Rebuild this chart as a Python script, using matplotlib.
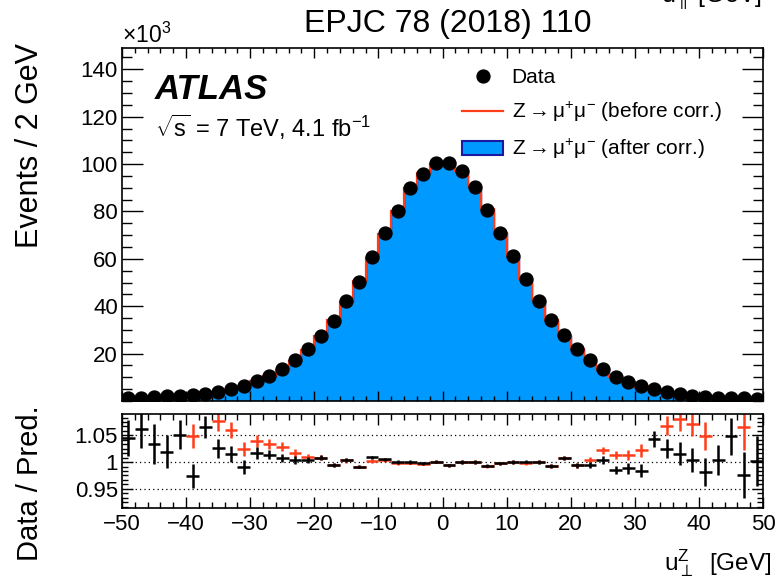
import numpy as np
import matplotlib
matplotlib.use("Agg")
import matplotlib.pyplot as plt
from matplotlib.ticker import MultipleLocator, FixedLocator
from matplotlib.lines import Line2D
from matplotlib.patches import Patch

plt.rcParams['font.family'] = ['Liberation Sans', 'DejaVu Sans']
plt.rcParams['mathtext.fontset'] = 'custom'
plt.rcParams['mathtext.rm'] = 'Liberation Sans'
plt.rcParams['mathtext.it'] = 'Liberation Sans:italic'
plt.rcParams['mathtext.bf'] = 'Liberation Sans:bold'
plt.rcParams['axes.unicode_minus'] = True

# u_perp binning: 2 GeV bins from -50 to 50 GeV
bin_edges = np.arange(-50, 51, 2)
bin_centers = 0.5 * (bin_edges[:-1] + bin_edges[1:])

# Observed events per bin (in units of 10^3)
data_counts = np.array([
    1.1, 1.4, 1.6, 1.9, 2.1, 2.4, 3.1, 3.9, 5.0, 6.3,
    8.6, 10.7, 13.5, 17.2, 21.8, 27.6, 33.9, 42.1, 50.4, 60.6,
    70.9, 80.2, 89.7, 96.0, 100.3,
    100.3, 97.0, 90.4, 80.5, 70.9, 61.1, 51.5, 42.2, 34.1, 27.8,
    21.8, 17.2, 13.5, 10.3, 8.2, 6.2, 5.0, 3.9, 2.8, 2.1,
    1.7, 1.4, 1.2, 1.1, 1.0,
])

# Data / prediction, simulation after the recoil correction
ratio_after = np.array([
    1.045, 1.062, 1.034, 1.019, 1.051, 0.974, 1.066, 1.026, 1.016, 0.991,
    1.017, 1.014, 1.008, 1.004, 1.004, 1.008, 0.994, 1.004, 0.991, 1.009,
    1.005, 1.000, 1.000, 0.998, 1.001,
    0.994, 1.000, 1.000, 0.993, 0.998, 1.000, 1.001, 1.000, 0.993, 1.008,
    0.994, 0.994, 1.004, 0.985, 0.988, 0.984, 1.043, 1.025, 1.016, 1.004,
    0.982, 1.004, 1.048, 0.976, 1.002,
])

# Data / prediction, simulation before the recoil correction
ratio_before = np.array([
    1.140, 1.150, 1.130, 1.110, 1.140, 1.049, 1.130, 1.076, 1.060, 1.025,
    1.040, 1.034, 1.029, 1.017, 1.009, 1.008, 0.995, 1.003, 0.991, 1.002,
    1.004, 0.998, 0.999, 0.997, 1.001,
    0.994, 1.000, 1.000, 0.992, 0.998, 1.000, 0.998, 1.000, 0.993, 1.008,
    0.994, 1.004, 1.022, 1.013, 1.013, 1.022, 1.095, 1.068, 1.080, 1.072,
    1.049, 1.095, 1.140, 1.065, 1.100,
])

# Statistical uncertainty on the ratio
ratio_err = np.array([
    0.033, 0.035, 0.037, 0.031, 0.027, 0.023, 0.021, 0.018, 0.015, 0.013,
    0.011, 0.009, 0.008, 0.007, 0.006, 0.005, 0.004, 0.004, 0.003, 0.003,
    0.003, 0.003, 0.003, 0.003, 0.003,
    0.003, 0.003, 0.003, 0.003, 0.003, 0.003, 0.003, 0.003, 0.004, 0.004,
    0.005, 0.006, 0.007, 0.008, 0.010, 0.012, 0.015, 0.018, 0.021, 0.023,
    0.026, 0.028, 0.034, 0.043, 0.046,
])

x_ticks = [-50, -40, -30, -20, -10, 0, 10, 20, 30, 40, 50]
y_ticks_main = [20, 40, 60, 80, 100, 120, 140]
y_ticks_ratio = [0.95, 1.0, 1.05]
y_ticklabels_ratio = ['0.95', '1', '1.05']

# Predictions implied by the data and the ratios
pred_after = data_counts / ratio_after
pred_before = data_counts / ratio_before

BLUE = '#0099ff'
BLUE_EDGE = '#1a1aa0'
RED = '#ff3d1a'
TICK_FS = 16
LABEL_FS = 21

fig = plt.figure(figsize=(7.76, 5.80), dpi=100)
ax = fig.add_axes([0.15722, 0.30862, 0.82603, 0.60862])
axr = fig.add_axes([0.15722, 0.12414, 0.82603, 0.16207])

# ---- main panel ----
ax.stairs(pred_after, bin_edges, fill=True, color=BLUE, lw=0, zorder=1)
ax.stairs(pred_after, bin_edges, color=BLUE_EDGE, lw=1.0, zorder=2)
ax.stairs(pred_before, bin_edges, color=RED, lw=1.6, zorder=3)
ax.plot(bin_centers, data_counts, 'o', color='black', ms=9.3, zorder=4)

ax.set_xlim(-50, 50)
ax.set_ylim(0, 149)
ax.yaxis.set_major_locator(FixedLocator(y_ticks_main))
ax.yaxis.set_minor_locator(MultipleLocator(5))
ax.xaxis.set_major_locator(FixedLocator(x_ticks))
ax.xaxis.set_minor_locator(MultipleLocator(2))
ax.tick_params(axis='both', which='both', direction='in', top=True, right=True,
               labelsize=TICK_FS, width=1.0, pad=3)
ax.tick_params(axis='y', which='major', length=15)
ax.tick_params(axis='y', which='minor', length=7.5)
ax.tick_params(axis='x', which='major', length=7)
ax.tick_params(axis='x', which='minor', length=3.6)
ax.tick_params(axis='x', labelbottom=False)
for s in ax.spines.values():
    s.set_linewidth(1.2)

handles = [
    Line2D([], [], marker='o', color='black', ls='none', ms=9.3),
    Line2D([], [], color=RED, lw=1.6),
    Patch(facecolor=BLUE, edgecolor=BLUE_EDGE, lw=1.5),
]
labels = ['Data',
          r'Z$\rightarrow\mathrm{\mu}^{+}\mathrm{\mu}^{-}$ (before corr.)',
          r'Z$\rightarrow\mathrm{\mu}^{+}\mathrm{\mu}^{-}$ (after corr.)']
ax.legend(handles, labels, loc='upper left', bbox_to_anchor=(0.53, 0.943),
          frameon=False, fontsize=15, borderpad=0, handlelength=2.0,
          handletextpad=0.4, labelspacing=0.62, borderaxespad=0)

fig.text(0.1997, 0.845, 'ATLAS', fontsize=25, fontweight='bold', style='italic',
         va='center', ha='left')
fig.text(0.1997, 0.781, r'$\sqrt{\mathrm{s}}$ = 7 TeV, 4.1 fb$^{\mathrm{-1}}$',
         fontsize=17, va='center', ha='left')
fig.text(0.1572, 0.940, r'$\times10^{3}$', fontsize=16.5, va='center', ha='left')
fig.text(0.577, 0.958, 'EPJC 78 (2018) 110', fontsize=23, va='center',
         ha='center')
fig.text(0.982, 0.9965, r'$\mathrm{u}_{\parallel}$ [GeV]', fontsize=18,
         va='baseline', ha='right')
fig.text(0.0387, 0.750, 'Events / 2 GeV', fontsize=LABEL_FS + 1, rotation=90,
         va='center', ha='center')

# ---- ratio panel ----
ylo, yhi = 0.914, 1.090
for yv in y_ticks_ratio:
    axr.axhline(yv, color='black', ls=(0, (1, 2.5)), lw=0.9, zorder=1)

in_before = (ratio_before > ylo) & (ratio_before < yhi)
axr.errorbar(bin_centers[in_before], ratio_before[in_before],
             xerr=1.0, yerr=ratio_err[in_before], fmt='none',
             ecolor=RED, elinewidth=1.8, capsize=0, zorder=2)
in_after = (ratio_after > ylo) & (ratio_after < yhi)
axr.errorbar(bin_centers[in_after], ratio_after[in_after],
             xerr=1.0, yerr=ratio_err[in_after], fmt='none',
             ecolor='black', elinewidth=1.8, capsize=0, zorder=3)

axr.set_xlim(-50, 50)
axr.set_ylim(ylo, yhi)
axr.xaxis.set_major_locator(FixedLocator(x_ticks))
axr.xaxis.set_minor_locator(MultipleLocator(2))
axr.yaxis.set_major_locator(FixedLocator(y_ticks_ratio))
axr.yaxis.set_minor_locator(MultipleLocator(0.05 / 6))
axr.set_yticklabels(y_ticklabels_ratio)
axr.tick_params(axis='both', which='both', direction='in', top=True, right=True,
                labelsize=TICK_FS, width=1.0)
axr.tick_params(axis='y', which='major', length=8, pad=3)
axr.tick_params(axis='y', which='minor', length=4)
axr.tick_params(axis='x', which='major', length=8, pad=4)
axr.tick_params(axis='x', which='minor', length=4)
for s in axr.spines.values():
    s.set_linewidth(1.2)

fig.text(0.0387, 0.167, 'Data / Pred.', fontsize=LABEL_FS, rotation=90,
         va='center', ha='center')
fig.text(0.9936, 0.029, r'$\mathrm{u}_{\perp}^{\mathrm{Z}}$  [GeV]', fontsize=17.5,
         va='center', ha='right')

fig.savefig('out.png', dpi=100)
